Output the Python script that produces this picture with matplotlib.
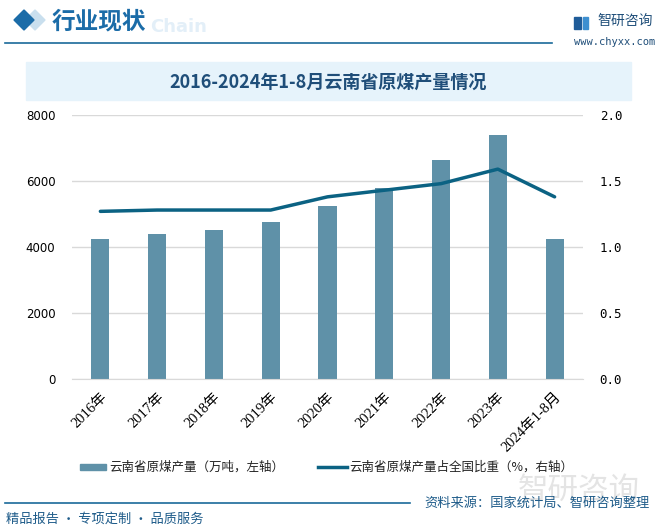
import matplotlib
matplotlib.use('Agg')
import matplotlib.pyplot as plt
from matplotlib.patches import Polygon, Rectangle
from matplotlib.lines import Line2D

plt.rcParams['font.family'] = ['Noto Sans CJK SC', 'DejaVu Sans']

years = ['2016年', '2017年', '2018年', '2019年', '2020年', '2021年', '2022年', '2023年', '2024年1-8月']
output = [4250, 4400, 4520, 4760, 5240, 5780, 6640, 7400, 4250]
share = [1.27, 1.28, 1.28, 1.28, 1.38, 1.43, 1.48, 1.59, 1.38]

bar_color = '#5F91A8'
line_color = '#0B6283'
head_blue = '#1B6CA8'

W, H = 656, 532
fig = plt.figure(figsize=(W / 100, H / 100), dpi=100)

def fx(x):
    return x / W

def fy(y):
    return 1 - y / H

# header
tr = fig.dpi_scale_trans
def px(pts):
    return [(x / 100, (H - y) / 100) for x, y in pts]

fig.add_artist(Polygon(px([(25, 20), (35, 10), (45, 20), (35, 30)]), closed=True, color='#C9DFEE', transform=tr))
fig.add_artist(Polygon(px([(14, 20), (24, 10), (34, 20), (24, 30)]), closed=True, color=head_blue, transform=tr))
fig.text(fx(150), fy(32), 'Chain', fontsize=13, color='#E3EFF8', fontweight='bold',
         family=['DejaVu Sans'], va='baseline')
fig.text(fx(52), fy(21), '行业现状', fontsize=17, color=head_blue, fontweight='bold', va='center')
fig.add_artist(Line2D([fx(5), fx(552)], [fy(43), fy(43)], color='#1A6A9A', lw=1.2))

# logo
fig.add_artist(Rectangle((574 / 100, (H - 29) / 100), 0.07, 0.12, color='#1F5C99', transform=tr))
fig.add_artist(Rectangle((583 / 100, (H - 29) / 100), 0.05, 0.12, color='#3D8FD0', transform=tr))
fig.text(fx(597), fy(21), '智研咨询', fontsize=10, color='#1F4E79', va='center')
fig.text(fx(574), fy(42), 'www.chyxx.com', fontsize=7.5, color='#1F4E79', va='center',
         family=['DejaVu Sans Mono'])

# title band
fig.add_artist(Rectangle((fx(26), fy(100)), fx(631) - fx(26), fy(62) - fy(100),
                         transform=fig.transFigure, color='#E6F3FB', zorder=0))
fig.text(fx(328), fy(82), '2016-2024年1-8月云南省原煤产量情况', fontsize=13, color='#1F4E79',
         fontweight='bold', ha='center', va='center')

# chart
ax = fig.add_axes([fx(72), fy(379), fx(583) - fx(72), fy(115) - fy(379)])
x = list(range(len(years)))
ax.bar(x, output, width=0.32, color=bar_color, zorder=2)
ax.set_xlim(-0.5, len(years) - 0.5)
ax.set_ylim(0, 8000)
ax.set_yticks([0, 2000, 4000, 6000, 8000])
ax.grid(axis='y', color='#D9D9D9', lw=1, zorder=0)
for s in ['top', 'left', 'right']:
    ax.spines[s].set_visible(False)
ax.spines['bottom'].set_color('#D9D9D9')
ax.tick_params(axis='y', length=0, labelsize=8.5, pad=12)
ax.tick_params(axis='x', length=0, pad=8)
ax.set_xticks(x)
ax.set_xticklabels(years, rotation=45, ha='right', rotation_mode='anchor', fontsize=10.5,
                   family=['Liberation Serif', 'Noto Sans CJK SC'])
for lab in ax.get_yticklabels():
    lab.set_family(['DejaVu Sans'])
    lab.set_fontsize(8.5)

ax2 = ax.twinx()
ax2.plot(x, share, color=line_color, lw=2.5, solid_capstyle='round', zorder=3)
ax2.set_ylim(0, 2.0)
ax2.set_yticks([0, 0.5, 1.0, 1.5, 2.0])
ax2.set_yticklabels(['0.0', '0.5', '1.0', '1.5', '2.0'], family=['DejaVu Sans Mono'], fontsize=9)
ax2.tick_params(length=0, pad=12)
for s in ['top', 'left', 'right', 'bottom']:
    ax2.spines[s].set_visible(False)

# legend
fig.add_artist(Rectangle((fx(80), fy(470)), fx(106) - fx(80), fy(464) - fy(470),
                         transform=fig.transFigure, color=bar_color))
fig.text(fx(109), fy(467), '云南省原煤产量（万吨，左轴）', fontsize=9, va='center', color='#222222')
fig.add_artist(Line2D([fx(318), fx(347)], [fy(467), fy(467)], color=line_color, lw=2.5))
fig.text(fx(349), fy(467), '云南省原煤产量占全国比重（%，右轴）', fontsize=9, va='center', color='#222222')

# footer
fig.text(fx(640), fy(490), '智研咨询', fontsize=22, color='#E4E4E4', ha='right', va='center', zorder=0)
fig.add_artist(Line2D([fx(5), fx(410)], [fy(503), fy(503)], color='#1A6A9A', lw=1.2))
fig.text(fx(650), fy(503), '资料来源：国家统计局、智研咨询整理', fontsize=9.5, color='#1F5C8A',
         ha='right', va='center')
fig.text(fx(6), fy(519), '精品报告 · 专项定制 · 品质服务', fontsize=9.5, color='#1F5C8A', va='center')

fig.savefig('out.png', dpi=100)
